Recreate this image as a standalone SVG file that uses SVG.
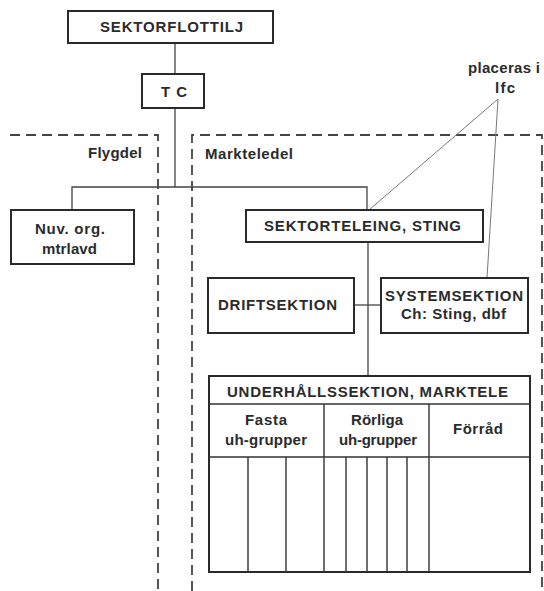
<svg xmlns="http://www.w3.org/2000/svg" width="544" height="591" viewBox="0 0 544 591">
<style>
.box{fill:#fff;stroke:#2a2a2a;stroke-width:2}
.t{font-family:"Liberation Sans",Arial,sans-serif;font-weight:bold;font-size:15px;fill:#2b2b2b;text-anchor:middle}
.c{fill:none;stroke:#444;stroke-width:1.3}
.d{fill:none;stroke:#444;stroke-width:1.8;stroke-dasharray:10 6}
.thin{fill:none;stroke:#777;stroke-width:1}
.in{fill:none;stroke:#333;stroke-width:1.4}
</style>
<rect width="544" height="591" fill="#fff"/>
<g id="regions">
<path class="d" d="M10 135 H158 V591"/>
<path class="d" d="M192 591 V135 H542 V591"/>
<text class="t" x="115" y="158" textLength="54">Flygdel</text>
<text class="t" x="249" y="159" textLength="88">Markteledel</text>
</g>
<g id="connectors">
<path class="c" d="M175 43 V74"/>
<path class="c" d="M175 108 V187"/>
<path class="c" d="M72 210 V187 H367 V210"/>
<path class="c" d="M368 242 V376"/>
<path class="c" d="M354 305 H381"/>
<path class="thin" d="M369 210 L498 99 L487 278"/>
</g>
<g id="sektorflottilj">
<rect class="box" x="68" y="11" width="205" height="32"/>
<text class="t" x="171.5" y="32" textLength="143">SEKTORFLOTTILJ</text>
</g>
<g id="tc">
<rect class="box" x="142" y="74" width="62" height="34"/>
<text class="t" x="174" y="97" textLength="26">T C</text>
</g>
<g id="placeras">
<text class="t" x="504" y="73" textLength="72">placeras i</text>
<text class="t" x="505" y="93" textLength="20">lfc</text>
</g>
<g id="nuv">
<rect class="box" x="11" y="210" width="123" height="54"/>
<text class="t" x="70" y="234" textLength="70">Nuv. org.</text>
<text class="t" x="69.5" y="254" textLength="55">mtrlavd</text>
</g>
<g id="sektorteleing">
<rect class="box" x="246" y="210" width="237" height="32"/>
<text class="t" x="362.5" y="231" textLength="197">SEKTORTELEING, STING</text>
</g>
<g id="driftsektion">
<rect class="box" x="208" y="278" width="146" height="55"/>
<text class="t" x="277.5" y="310" textLength="119">DRIFTSEKTION</text>
</g>
<g id="systemsektion">
<rect class="box" x="381" y="278" width="147" height="55"/>
<text class="t" x="454" y="301" textLength="138">SYSTEMSEKTION</text>
<text class="t" x="453.5" y="319" textLength="105">Ch: Sting, dbf</text>
</g>
<g id="underhall">
<rect class="box" x="209" y="376" width="321" height="196"/>
<path class="in" d="M209 404 H530 M209 457 H530 M324 404 V572 M429 404 V572 M248 457 V572 M286 457 V572 M346 457 V572 M367 457 V572 M387 457 V572 M407 457 V572"/>
<text class="t" x="367.5" y="397" textLength="281">UNDERHÅLLSSEKTION, MARKTELE</text>
<text class="t" x="266" y="425" textLength="42">Fasta</text>
<text class="t" x="266" y="445" textLength="82">uh-grupper</text>
<text class="t" x="377" y="425" textLength="52">Rörliga</text>
<text class="t" x="378" y="445" textLength="78">uh-grupper</text>
<text class="t" x="478" y="434" textLength="50">Förråd</text>
</g>
</svg>
